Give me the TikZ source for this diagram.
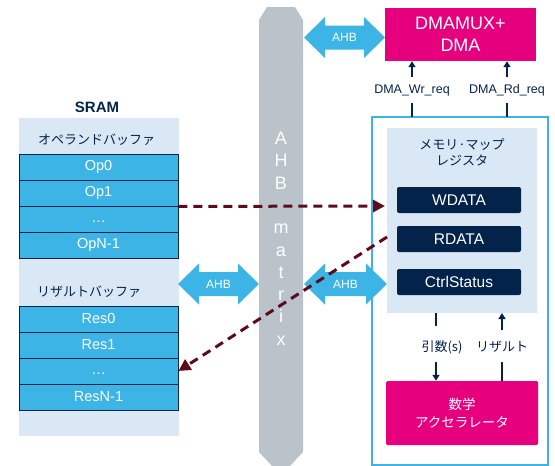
\documentclass[tikz,border=0pt]{standalone}
\usepackage{fontspec}
\setmainfont{Liberation Sans}
\newfontfamily\jpfont{Noto Sans CJK JP}
\usetikzlibrary{arrows.meta}
\definecolor{stblue}{HTML}{3CB4E6}
\definecolor{stnavy}{HTML}{03234B}
\definecolor{stpink}{HTML}{E6007E}
\definecolor{stbg}{HTML}{DAE8F5}
\definecolor{stbar}{HTML}{B9C3C9}
\definecolor{stmaroon}{HTML}{5E0B1A}
\newcommand{\fs}[1]{\fontsize{#1}{#1}\selectfont}
\newcommand{\ahbarrow}[4]{%
  \fill[stblue] (#1,#3) -- ({#1+21},{#3-20.5}) -- ({#1+21},{#3-12}) -- ({#2-21},{#3-12}) -- ({#2-21},{#3-20.5}) -- (#2,#3) -- ({#2-21},{#3+20.5}) -- ({#2-21},{#3+12}) -- ({#1+21},{#3+12}) -- ({#1+21},{#3+20.5}) -- cycle;
  \node[ahblabel] (#4) at ({(#1+#2)/2},#3) {AHB};}
\begin{document}
\begin{tikzpicture}[x=1pt,y=-1pt,
  ahblabel/.style={text=white,font=\fs{12},inner sep=0pt},
  row/.style={draw=stnavy,line width=0.9pt,fill=stblue,minimum width=159pt,minimum height=26pt,inner sep=0pt,text=white,font=\fs{14.5}},
  reg/.style={fill=stnavy,rounded corners=2pt,minimum width=124pt,minimum height=26pt,inner sep=0pt,text=white,font=\fs{15.5}},
  jplabel/.style={text=stnavy,font=\jpfont\fs{13},inner sep=0pt},
  barletter/.style={text=white,font=\fs{18},inner sep=0pt,anchor=base},
  dasharrow/.style={draw=stmaroon,line width=3pt,dash pattern=on 9pt off 6pt,-{Triangle[length=12pt,width=12pt]}},
  smallarrow/.style={draw=stnavy,line width=1.4pt,-{Triangle[length=6pt,width=7pt]}},
  smallline/.style={draw=stnavy,line width=1.4pt},
  reqlabel/.style={text=stnavy,font=\fs{12.5},inner sep=0pt}]
\useasboundingbox (0,0) rectangle (555,466);
% AHB matrix bar
\fill[stbar] (259,20) -- (267,7) -- (295,7) -- (303,20) -- (303,452) -- (290,466) -- (272,466) -- (259,452) -- cycle;
\foreach \ch/\yy [count=\k] in {A/144.5,H/166.8,B/189.1,m/233.7,a/256,t/278.3,r/300.6,i/322.9,x/345.2}
  \node[barletter] (bar\k) at (281,\yy) {\ch};
% SRAM
\fill[stbg] (19,118) rectangle (179,436);
\node[text=stnavy,font=\bfseries\fs{15},inner sep=0pt] (sram) at (97,107) {SRAM};
\node[jplabel,anchor=west] (opbuf) at (38,140) {オペランドバッファ};
\node[row] (op0) at (98.5,167) {Op0};
\node[row] (op1) at (98.5,193) {Op1};
\node[row] (opd) at (98.5,219) {\vphantom{Op}\dots};
\node[row] (opn) at (98.5,245) {OpN-1};
\node[jplabel,anchor=west] (resbuf) at (37,292) {リザルトバッファ};
\node[row] (res0) at (98.5,319) {Res0};
\node[row] (res1) at (98.5,345) {Res1};
\node[row] (resd) at (98.5,371) {\vphantom{Op}\dots};
\node[row] (resn) at (98.5,397) {ResN-1};
% DMA
\node[fill=stpink,minimum width=151pt,minimum height=53pt,inner sep=0pt,text=white,font=\fs{18},align=center] (dma) at (460.5,34.5) {DMAMUX+\\[4pt]DMA};
% outer box
\draw[stblue,line width=2.5pt] (372,117) rectangle (548,465);
\fill[stbg] (387,128) rectangle (537,313);
\coordinate (innerw) at (387,237);
\node[jplabel,align=center,font=\jpfont\fs{13},inner sep=0pt] (regtitle) at (462,152.5) {メモリ·マップ\\[3pt]レジスタ};
\node[reg] (wdata) at (459,200) {WDATA};
\node[reg] (rdata) at (459,239) {RDATA};
\node[reg] (ctrl) at (459,282) {CtrlStatus};
% accelerator
\node[fill=stpink,rounded corners=1.5pt,minimum width=152pt,minimum height=64pt,inner sep=0pt,text=white,font=\jpfont\fs{13.5},align=center] (acc) at (462,413) {数学\\[5pt]アクセラレータ};
% DMA requests
\node[reqlabel] (wrreq) at (412,90) {DMA\_Wr\_req};
\node[reqlabel] (rdreq) at (507,90) {DMA\_Rd\_req};
\coordinate (wrbot) at (412,117);
\coordinate (rdbot) at (507,117);
\draw[smallline] (wrbot) -- (412,103);
\draw[smallline] (rdbot) -- (507,103);
\draw[smallarrow] (412,77) -- (wrbot |- dma.south);
\draw[smallarrow] (507,77) -- (rdbot |- dma.south);
% args / result
\node[jplabel] (args) at (442,347) {引数(s)};
\node[jplabel] (result) at (502,347) {リザルト};
\coordinate (argtop) at (436,313);
\coordinate (restop) at (502,313);
\draw[smallline] (argtop) -- (436,326);
\draw[smallarrow] (436,362) -- (argtop |- acc.north);
\draw[smallline] (restop |- acc.north) -- (502,362);
\draw[smallarrow] (502,330) -- (restop);
% AHB arrows
\ahbarrow{304}{385}{37.5}{ahbtop}
\ahbarrow{304}{387}{284}{ahbmid}
\ahbarrow{178}{259}{284}{ahbleft}
% dashed data flows
\draw[dasharrow] (op1.south east) -- (385,206);
\draw[dasharrow] (innerw) -- (resd.east);
\end{tikzpicture}
\end{document}
